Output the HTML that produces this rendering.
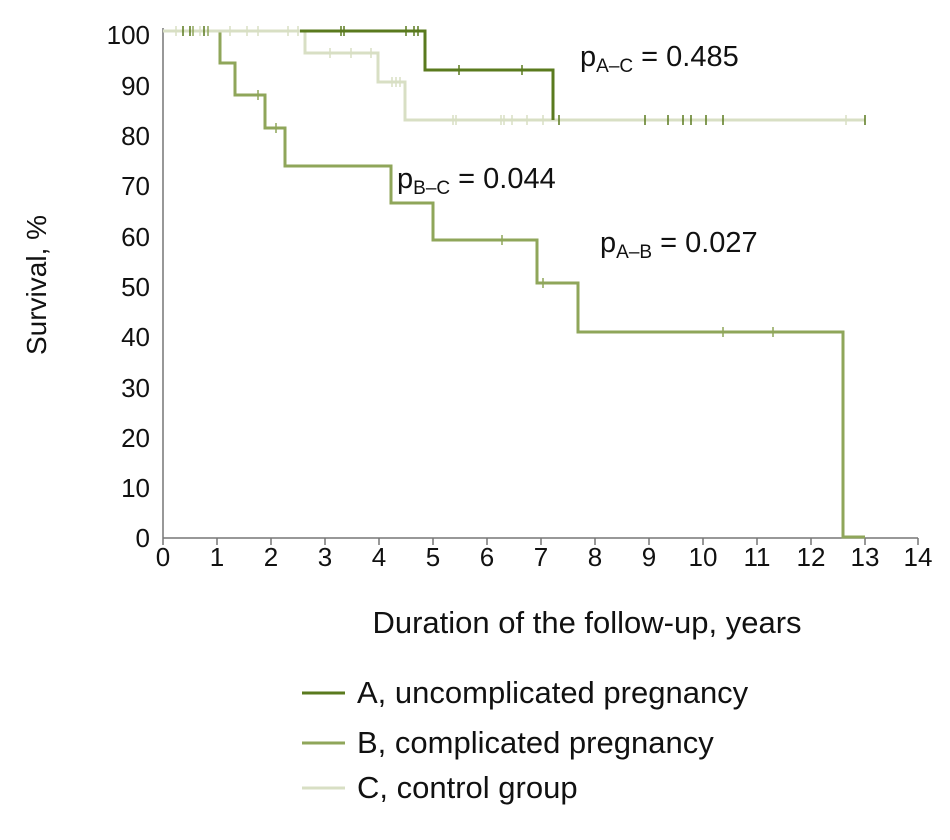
<!DOCTYPE html>
<html><head><style>body{margin:0;background:#fff}</style></head><body>
<svg width="950" height="835" xmlns="http://www.w3.org/2000/svg" font-family="Liberation Sans, sans-serif">
<rect width="950" height="835" fill="#fff"/>
<g stroke="#777" stroke-width="1.5" fill="none">
<line x1="163" y1="28" x2="163" y2="538"/>
<line x1="163" y1="538" x2="918" y2="538"/>
<path d="M163 538v7M217 538v7M271 538v7M325 538v7M379 538v7M433 538v7M487 538v7M541 538v7M595 538v7M649 538v7M703 538v7M757 538v7M811 538v7M865 538v7M918 538v7"/>
</g>
<g font-size="26" fill="#111" text-anchor="end">
<text x="150" y="44">100</text><text x="150" y="95">90</text><text x="150" y="145">80</text><text x="150" y="195">70</text><text x="150" y="246">60</text><text x="150" y="296">50</text><text x="150" y="346">40</text><text x="150" y="397">30</text><text x="150" y="447">20</text><text x="150" y="497">10</text><text x="150" y="547">0</text>
</g>
<g font-size="26" fill="#111" text-anchor="middle">
<text x="163" y="566">0</text><text x="217" y="566">1</text><text x="271" y="566">2</text><text x="325" y="566">3</text><text x="379" y="566">4</text><text x="433" y="566">5</text><text x="487" y="566">6</text><text x="541" y="566">7</text><text x="595" y="566">8</text><text x="649" y="566">9</text><text x="703" y="566">10</text><text x="757" y="566">11</text><text x="811" y="566">12</text><text x="865" y="566">13</text><text x="918" y="566">14</text>
<text x="587" y="633" font-size="31">Duration of the follow-up, years</text>
<text transform="translate(46,285) rotate(-90)" font-size="28">Survival, %</text>
</g>
<g fill="none" stroke-width="3">
<path stroke="#d8dfc4" d="M163 31H305V53H378V82H405V120H865"/>
<path stroke="#5a7a1e" d="M300 31H425V70H553V120"/>
<path stroke="#8fa65a" d="M163 31H220V63H235V95H265V128H285V166H391V203H433V240H537V283H578V332H843V537H865"/>
<path stroke="#d8dfc4" d="M163 31H300"/>
</g>
<g stroke-width="1.5">
<path stroke="#d8dfc4" d="M330 48v10M351 48v10M371 48v10M392 77v10M396 77v10M400 77v10M453 115v10M456 115v10M501 115v10M504 115v10M512 115v10M527 115v10M543 115v10M846 115v10M176 26v10M200 26v10M230 26v10M247 26v10M258 26v10M288 26v10M298 26v10"/>
<path stroke="#5a7a1e" d="M341 26v10M344 26v10M406 26v10M414 26v10M418 26v10M459 65v10M522 65v10M559 115v10M645 115v10M668 115v10M683 115v10M691 115v10M706 115v10M723 115v10M865 115v10M183 26v10M190 26v10M204 26v10"/>
<path stroke="#8fa65a" d="M258 90v10M276 123v10M502 235v10M543 278v10M723 327v10M773 327v10M193 26v10M208 26v10"/>
</g>
<g font-size="29" fill="#111">
<text x="580" y="66">p<tspan font-size="19" dy="6">A–C</tspan><tspan dy="-6"> = 0.485</tspan></text>
<text x="397" y="188">p<tspan font-size="19" dy="6">B–C</tspan><tspan dy="-6"> = 0.044</tspan></text>
<text x="600" y="252">p<tspan font-size="19" dy="6">A–B</tspan><tspan dy="-6"> = 0.027</tspan></text>
</g>
<g stroke-width="3">
<line x1="302" y1="693" x2="345" y2="693" stroke="#5a7a1e"/>
<line x1="302" y1="743" x2="345" y2="743" stroke="#8fa65a"/>
<line x1="302" y1="788" x2="345" y2="788" stroke="#d8dfc4"/>
</g>
<g font-size="31" fill="#111">
<text x="357" y="703">A, uncomplicated pregnancy</text>
<text x="357" y="753">B, complicated pregnancy</text>
<text x="357" y="798">C, control group</text>
</g>
</svg>
</body></html>
